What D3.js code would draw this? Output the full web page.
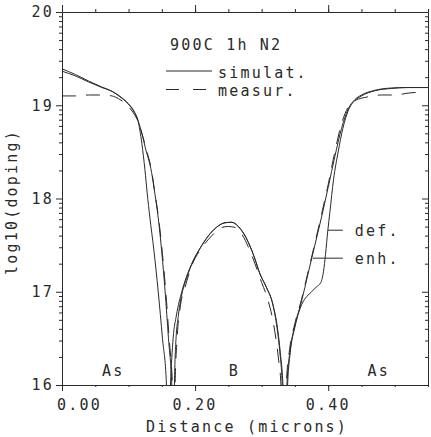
<!DOCTYPE html>
<html>
<head>
<meta charset="utf-8">
<script src="https://cdn.jsdelivr.net/npm/d3@7"></script>
<style>
  body { margin: 0; background: #fff; }
  text { font-family: "DejaVu Sans Mono", monospace; fill: #2a2a2a; letter-spacing: 2.2px; }
</style>
</head>
<body>
<div id="chart"></div>
<script>
// tick values
var xTicks = [0, 0.2, 0.4];
var yTicks = [16, 17, 18, 19, 20];

// simulated, default diffusion  [distance (microns), log10(doping)]
var simDef = [
  [0.000, 19.39], [0.020, 19.33], [0.040, 19.26], [0.060, 19.195], [0.075, 19.15], [0.090, 19.075],
  [0.100, 19.01], [0.108, 18.93], [0.114, 18.84], [0.120, 18.59], [0.1246, 18.31], [0.128, 18.06],
  [0.132, 17.80], [0.138, 17.45], [0.1446, 17.0], [0.151, 16.5], [0.157, 16.0], [0.159, 15.6],
  [0.161, 15.6], [0.163, 16.0], [0.167, 16.5], [0.172, 16.75], [0.180, 17.0], [0.187, 17.16],
  [0.197, 17.33], [0.207, 17.46], [0.220, 17.60], [0.232, 17.69], [0.245, 17.74], [0.255, 17.745],
  [0.265, 17.70], [0.280, 17.53], [0.290, 17.35], [0.297, 17.20], [0.307, 17.05], [0.317, 16.86],
  [0.324, 16.60], [0.328, 16.35], [0.332, 16.0], [0.334, 15.6],
  [0.337, 15.6], [0.339, 16.0], [0.343, 16.35], [0.350, 16.62], [0.360, 16.86], [0.368, 16.95],
  [0.375, 17.0], [0.382, 17.05], [0.389, 17.10], [0.393, 17.22], [0.396, 17.40], [0.3995, 17.66],
  [0.4025, 17.85], [0.408, 18.20], [0.415, 18.50], [0.422, 18.75], [0.430, 18.94], [0.440, 19.05],
  [0.450, 19.10], [0.470, 19.155], [0.495, 19.18], [0.520, 19.19], [0.550, 19.19]
];

// simulated, enhanced diffusion
var simEnh = [
  [0.000, 19.365], [0.020, 19.315], [0.040, 19.25], [0.060, 19.19], [0.075, 19.15], [0.090, 19.08],
  [0.100, 19.015], [0.108, 18.94], [0.114, 18.84], [0.120, 18.70], [0.125, 18.55], [0.1346, 18.28],
  [0.1396, 18.05], [0.1445, 17.80], [0.150, 17.42], [0.155, 17.0], [0.160, 16.5], [0.165, 16.0],
  [0.167, 15.6], [0.1685, 15.6], [0.169, 16.0], [0.171, 16.45], [0.175, 16.75], [0.181, 17.0],
  [0.188, 17.16], [0.197, 17.33], [0.207, 17.46], [0.220, 17.60], [0.232, 17.69], [0.245, 17.74],
  [0.255, 17.745], [0.265, 17.70], [0.280, 17.53], [0.290, 17.35], [0.297, 17.20], [0.307, 17.05],
  [0.317, 16.86], [0.323, 16.62], [0.327, 16.38], [0.331, 16.0], [0.333, 15.6],
  [0.336, 15.6], [0.338, 16.0], [0.343, 16.38], [0.350, 16.64], [0.360, 16.90], [0.370, 17.20],
  [0.380, 17.50], [0.390, 17.80], [0.400, 18.12], [0.410, 18.45], [0.420, 18.75], [0.430, 18.96],
  [0.440, 19.06], [0.450, 19.11], [0.470, 19.16], [0.495, 19.185], [0.520, 19.19], [0.550, 19.19]
];

// measured
var measured = [
  [0.000, 19.10], [0.020, 19.10], [0.040, 19.11], [0.060, 19.11], [0.075, 19.10], [0.085, 19.07],
  [0.095, 19.02], [0.105, 18.94], [0.114, 18.83], [0.120, 18.70], [0.125, 18.57], [0.135, 18.28],
  [0.140, 18.04], [0.145, 17.80], [0.151, 17.40], [0.156, 17.0], [0.161, 16.5], [0.166, 16.0],
  [0.168, 15.6], [0.169, 15.6], [0.170, 16.0], [0.173, 16.5], [0.178, 16.85], [0.185, 17.05],
  [0.195, 17.28], [0.210, 17.47], [0.225, 17.60], [0.240, 17.69], [0.250, 17.70], [0.260, 17.69],
  [0.270, 17.62], [0.280, 17.48], [0.290, 17.30], [0.300, 17.10], [0.310, 16.90], [0.318, 16.65],
  [0.325, 16.30], [0.329, 16.0], [0.331, 15.6],
  [0.335, 15.6], [0.337, 16.0], [0.342, 16.38], [0.350, 16.66], [0.360, 16.92], [0.370, 17.22],
  [0.380, 17.52], [0.390, 17.83], [0.400, 18.15], [0.410, 18.50], [0.420, 18.80], [0.430, 18.98],
  [0.440, 19.05], [0.460, 19.09], [0.480, 19.11], [0.500, 19.11], [0.520, 19.13], [0.545, 19.145]
];

var regionNames = ["As", "B", "As"];
var regionPos = [0.077, 0.259, 0.476];

function init() {
  var w = 431;
  var h = 437;
  var left = 62, right = 428, top = 12, bottom = 385;
  var ink = "#2a2a2a";

  var x = d3.scaleLinear().domain([0, 0.55]).range([left, right]);
  var y = d3.scaleLinear().domain([16, 20]).range([bottom, top]);

  var svg = d3.select("#chart")
              .append("svg")
              .attr("width", w)
              .attr("height", h);

  // log minor ticks inside each decade
  var yMinor = [];
  for (var d = 16; d < 20; d++) {
    for (var k = 2; k <= 9; k++) yMinor.push(d + Math.log10(k));
  }
  var xMinor = d3.range(0, 0.5501, 0.05);

  function axisStyle(g) {
    g.select(".domain").attr("stroke", ink);
    g.selectAll(".tick line").attr("stroke", ink);
    g.selectAll(".tick text").remove();
  }

  // left axis
  svg.append("g").attr("transform", "translate(" + left + ",0)")
     .call(d3.axisLeft(y).tickValues(yMinor).tickSize(3).tickSizeOuter(0)).call(axisStyle);
  svg.append("g").attr("transform", "translate(" + left + ",0)")
     .call(d3.axisLeft(y).tickValues(yTicks).tickSize(6).tickSizeOuter(0)).call(axisStyle);
  // right axis, ticks inward
  svg.append("g").attr("transform", "translate(" + right + ",0)")
     .call(d3.axisLeft(y).tickValues(yMinor).tickSize(3).tickSizeOuter(0)).call(axisStyle);
  svg.append("g").attr("transform", "translate(" + right + ",0)")
     .call(d3.axisLeft(y).tickValues(yTicks).tickSize(6).tickSizeOuter(0)).call(axisStyle);
  // top axis
  svg.append("g").attr("transform", "translate(0," + top + ")")
     .call(d3.axisTop(x).tickValues(xMinor).tickSize(3).tickSizeOuter(0)).call(axisStyle);
  svg.append("g").attr("transform", "translate(0," + top + ")")
     .call(d3.axisTop(x).tickValues(xTicks).tickSize(7).tickSizeOuter(0)).call(axisStyle);
  // bottom axis
  svg.append("g").attr("transform", "translate(0," + bottom + ")")
     .call(d3.axisBottom(x).tickValues(xMinor).tickSize(2).tickSizeOuter(0)).call(axisStyle);
  svg.append("g").attr("transform", "translate(0," + bottom + ")")
     .call(d3.axisBottom(x).tickValues(xTicks).tickSize(6).tickSizeOuter(0)).call(axisStyle);

  // tick labels
  svg.selectAll("text.ylab")
     .data(yTicks)
     .enter()
     .append("text")
     .attr("class", "ylab")
     .attr("x", left - 8)
     .attr("y", function(d) { return y(d); })
     .attr("dy", "0.36em")
     .attr("text-anchor", "end")
     .attr("font-size", "15px")
     .text(function(d) { return d; });

  svg.selectAll("text.xlab")
     .data(xTicks)
     .enter()
     .append("text")
     .attr("class", "xlab")
     .attr("x", function(d, i) { return i == 0 ? x(d) - 5 : x(d); })
     .attr("y", 410)
     .attr("text-anchor", function(d, i) { return i == 0 ? "start" : "middle"; })
     .attr("font-size", "15px")
     .text(d3.format(".2f"));

  // axis titles
  svg.append("text")
     .attr("x", (left + right) / 2 + 2)
     .attr("y", 432)
     .attr("text-anchor", "middle")
     .attr("font-size", "15px")
     .text("Distance (microns)");

  svg.append("text")
     .attr("transform", "translate(17," + 202 + ") rotate(-90)")
     .attr("text-anchor", "middle")
     .attr("font-size", "15px")
     .text("log10(doping)");

  // curves
  svg.append("clipPath").attr("id", "plot")
     .append("rect").attr("x", left).attr("y", top)
     .attr("width", right - left).attr("height", bottom - top);

  var line = d3.line()
               .x(function(d) { return x(d[0]); })
               .y(function(d) { return y(d[1]); })
               .curve(d3.curveMonotoneX);

  var series = [
    { data: simDef, dash: null },
    { data: simEnh, dash: null },
    { data: measured, dash: "14,10" }
  ];

  svg.append("g").attr("clip-path", "url(#plot)")
     .selectAll("path")
     .data(series)
     .enter()
     .append("path")
     .attr("d", function(d) { return line(d.data); })
     .attr("fill", "none")
     .attr("stroke", ink)
     .attr("stroke-width", 1)
     .attr("stroke-dasharray", function(d) { return d.dash; });

  // region labels
  svg.selectAll("text.region")
     .data(regionNames)
     .enter()
     .append("text")
     .attr("class", "region")
     .attr("x", function(d, i) { return x(regionPos[i]); })
     .attr("y", y(16) - 9)
     .attr("text-anchor", "middle")
     .attr("font-size", "15px")
     .text(function(d) { return d; });

  // legend
  svg.append("text").attr("x", 170).attr("y", 50).attr("font-size", "15px").text("900C 1h N2");
  svg.append("line").attr("x1", 166).attr("x2", 212).attr("y1", 71).attr("y2", 71)
     .attr("stroke", ink);
  svg.append("text").attr("x", 218).attr("y", 78).attr("font-size", "15px").text("simulat.");
  svg.append("line").attr("x1", 166).attr("x2", 206).attr("y1", 89.5).attr("y2", 89.5)
     .attr("stroke", ink).attr("stroke-dasharray", "13,14");
  svg.append("text").attr("x", 218).attr("y", 96).attr("font-size", "15px").text("measur.");

  // curve labels
  svg.append("line").attr("x1", x(0.3995)).attr("x2", x(0.422)).attr("y1", y(17.66)).attr("y2", y(17.66))
     .attr("stroke", ink);
  svg.append("text").attr("x", x(0.44)).attr("y", y(17.66) + 6).attr("font-size", "15px").text("def.");
  svg.append("line").attr("x1", x(0.377)).attr("x2", x(0.422)).attr("y1", y(17.36)).attr("y2", y(17.36))
     .attr("stroke", ink);
  svg.append("text").attr("x", x(0.44)).attr("y", y(17.36) + 6).attr("font-size", "15px").text("enh.");
}

window.onload = init;
</script>
</body>
</html>
